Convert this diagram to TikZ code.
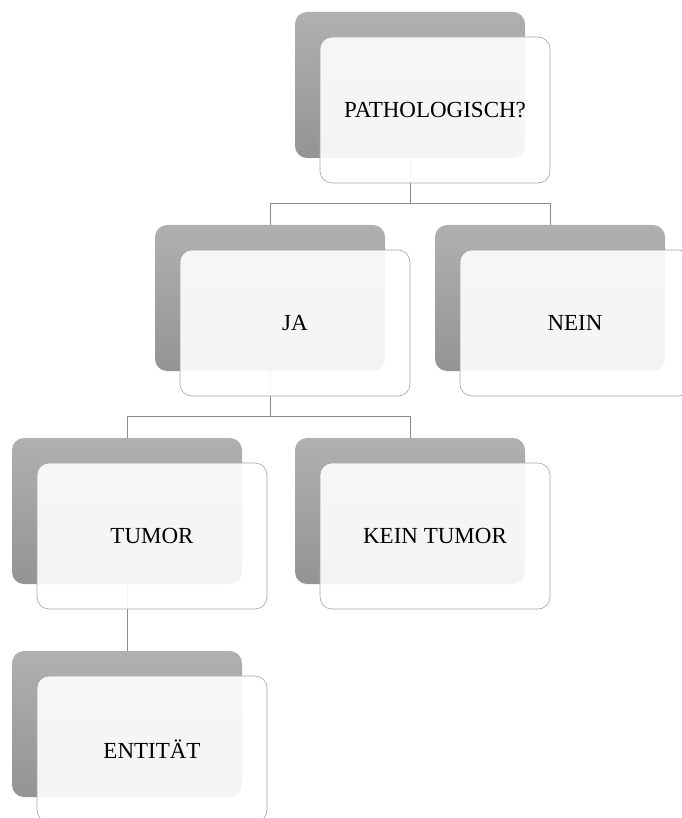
\documentclass[tikz,border=0pt]{standalone}
\usepackage{fontspec}
\setmainfont{Liberation Serif}
\usetikzlibrary{positioning}

\begin{document}
\begin{tikzpicture}[
    x=1pt, y=1pt,
    font=\fontsize{23}{27}\selectfont,
    back/.style={
        rectangle, rounded corners=12pt, draw=none,
        top color=black!31, bottom color=black!42,
        minimum width=230pt, minimum height=146pt,
        inner sep=0pt, outer sep=0pt
    },
    front/.style={
        rectangle, rounded corners=12pt,
        draw=black!35, line width=0.6pt,
        fill=white, fill opacity=0.9, text opacity=1,
        minimum width=230pt, minimum height=146pt,
        inner sep=0pt, align=center
    },
    conn/.style={draw=black!45, line width=0.7pt}
]
\useasboundingbox (0,0) rectangle (681,-818);

% ============ SHADOW BOXES ============
\node[back] (pathoS) at (410,-85) {};
\node[back, below=67pt of pathoS, xshift=-140pt] (jaS) {};
\node[back, below=67pt of pathoS, xshift=140pt] (neinS) {};
\node[back, below=67pt of jaS, xshift=-143pt] (tumorS) {};
\node[back, below=67pt of jaS, xshift=140pt] (keinS) {};
\node[back, below=67pt of tumorS] (entS) {};

% ============ CONNECTORS ============
\draw[conn] (pathoS.south) -- ++(0,-45) -| (jaS.north);
\draw[conn] (pathoS.south) -- ++(0,-45) -| (neinS.north);
\draw[conn] (jaS.south) -- ++(0,-45) -| (tumorS.north);
\draw[conn] (jaS.south) -- ++(0,-45) -| (keinS.north);
\draw[conn] (tumorS.south) -- (entS.north);

% ============ LABEL BOXES ============
\node[front] (patho) at ([shift={(25pt,-25pt)}]pathoS) {PATHOLOGISCH?};
\node[front] (ja) at ([shift={(25pt,-25pt)}]jaS) {JA};
\node[front] (nein) at ([shift={(25pt,-25pt)}]neinS) {NEIN};
\node[front] (tumor) at ([shift={(25pt,-25pt)}]tumorS) {TUMOR};
\node[front] (kein) at ([shift={(25pt,-25pt)}]keinS) {KEIN TUMOR};
\node[front] (ent) at ([shift={(25pt,-25pt)}]entS) {ENTITÄT};

\end{tikzpicture}
\end{document}
